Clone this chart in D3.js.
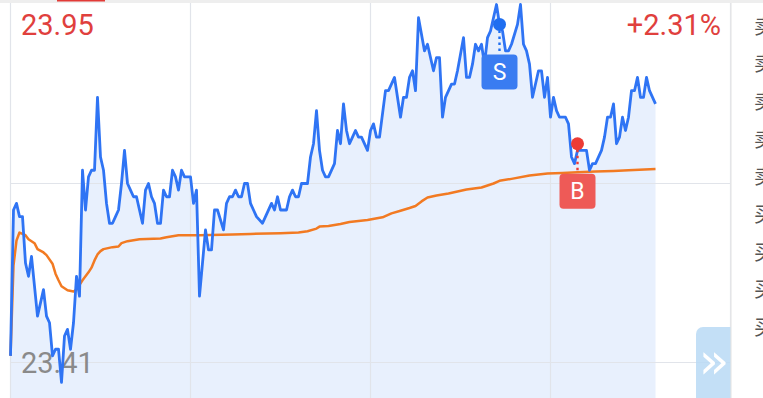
<!DOCTYPE html>
<html>
<head>
<meta charset="utf-8">
<script src="https://cdn.jsdelivr.net/npm/d3@7"></script>
<style>
  body { margin: 0; background: #fff; }
  svg { display: block; font-family: Roboto, "Noto Sans", sans-serif; }
</style>
</head>
<body>
<svg id="vis" width="763" height="398"></svg>
<script>
// intraday minute index (0..240) and last price at that minute
const minutes = [0,1,2,3,4,5,6,7,9,11,12,13,14,15,16,17,18,19,20,21,22,23,24,25,26,27,28,29,30,31,32,33,34,35,36,37,38,39,40,41,42,44,45,46,47,48,49,50,51,52,53,54,55,56,57,58,60,61,62,63,65,66,67,68,69,71,72,73,74,75,76,77,78,79,80,81,82,84,85,87,88,89,90,92,93,94,95,96,97,99,100,101,102,103,104,105,106,108,109,110,111,112,113,114,115,116,117,119,120,121,122,123,125,126,128,130,131,132,133,134,135,136,138,139,140,141,142,143,144,145,147,148,149,151,152,153,154,155,156,157,158,159,160,162,163,164,165,166,167,169,170,171,172,173,174,175,176,177,178,179,180,181,182,183,185,186,187,188,189,190,192,193,194,195,197,198,199,200,201,202,203,204,205,206,207,208,209,210,211,212,213,215];
const prices = [23.42,23.64,23.65,23.63,23.63,23.56,23.54,23.57,23.48,23.52,23.48,23.47,23.42,23.43,23.43,23.38,23.45,23.46,23.43,23.47,23.54,23.51,23.70,23.64,23.69,23.70,23.70,23.81,23.72,23.70,23.65,23.62,23.62,23.63,23.64,23.68,23.73,23.68,23.67,23.66,23.66,23.62,23.67,23.68,23.66,23.65,23.62,23.62,23.67,23.66,23.66,23.70,23.69,23.67,23.70,23.69,23.69,23.65,23.67,23.51,23.61,23.58,23.58,23.64,23.64,23.61,23.65,23.66,23.66,23.67,23.66,23.66,23.68,23.68,23.65,23.64,23.63,23.62,23.63,23.65,23.64,23.66,23.64,23.64,23.66,23.67,23.66,23.66,23.68,23.68,23.72,23.74,23.79,23.73,23.70,23.69,23.69,23.71,23.76,23.74,23.80,23.76,23.74,23.75,23.76,23.75,23.75,23.73,23.76,23.77,23.75,23.75,23.82,23.82,23.84,23.78,23.81,23.81,23.84,23.85,23.82,23.93,23.88,23.89,23.87,23.85,23.87,23.87,23.78,23.81,23.83,23.83,23.85,23.90,23.84,23.84,23.86,23.89,23.88,23.89,23.86,23.90,23.91,23.95,23.92,23.91,23.88,23.88,23.89,23.92,23.95,23.89,23.88,23.86,23.81,23.83,23.85,23.85,23.81,23.84,23.78,23.81,23.79,23.78,23.78,23.77,23.72,23.71,23.73,23.73,23.73,23.70,23.71,23.71,23.73,23.75,23.78,23.78,23.80,23.74,23.75,23.78,23.76,23.78,23.82,23.82,23.84,23.81,23.81,23.84,23.82,23.80];

// average price line
const avgMinutes = [0,1,2,3,5,6,8,9,11,12,14,15,16,17,19,21,22,24,26,27,28,29,30,31,34,36,37,39,43,50,52,56,63,74,80,90,96,99,102,103,106,110,113,119,124,127,130,133,135,137,139,142,146,152,157,161,163,167,173,179,184,189,195,201,206,215];
const avgPrices = [23.420,23.556,23.594,23.606,23.602,23.596,23.590,23.581,23.576,23.572,23.559,23.544,23.534,23.525,23.519,23.517,23.520,23.534,23.546,23.553,23.564,23.573,23.578,23.581,23.584,23.585,23.590,23.593,23.596,23.597,23.599,23.602,23.602,23.603,23.604,23.605,23.606,23.608,23.612,23.615,23.616,23.619,23.622,23.625,23.629,23.635,23.639,23.643,23.646,23.653,23.659,23.662,23.665,23.671,23.674,23.680,23.684,23.687,23.692,23.695,23.696,23.697,23.698,23.699,23.700,23.702];

// trade markers
const trades = [
  {side: "S", minute: 163, price: 23.92, color: "#3a7cf1", dot: "#1f6ef0"},
  {side: "B", minute: 189, price: 23.74, color: "#ee5a57", dot: "#ec3b35"}
];

const priceMax = 23.95, priceMin = 23.41;
const topLabel = "23.95", bottomLabel = "23.41", pctLabel = "+2.31%";
const sideRows = ["卖","卖","卖","卖","卖","买","买","买","买"];

const W = 763, H = 398;
const svg = d3.select("#vis");

const x = d3.scaleLinear().domain([0, 240]).range([10.5, 730.5]);
const y = d3.scaleLinear().domain([priceMin, priceMax]).range([362.5, 4.5]);

// top strip
svg.append("rect").attr("x", 0).attr("y", 0).attr("width", W).attr("height", 3).attr("fill", "#eeeeee");
svg.append("rect").attr("x", 57).attr("y", 0).attr("width", 48).attr("height", 1.5).attr("fill", "#e23b37");

const pts = minutes.map((m, i) => [x(m), y(prices[i])]);

// area fill
svg.append("path")
  .attr("d", d3.area().x(d => d[0]).y0(H).y1(d => d[1])(pts))
  .attr("fill", "#e8f0fd");

// grid
const grid = svg.append("g").attr("stroke", "#e1e4ea").attr("stroke-width", 1.2);
[0, 60, 120, 180, 240].forEach(m => grid.append("line")
  .attr("x1", x(m)).attr("x2", x(m)).attr("y1", 3).attr("y2", H));
[(priceMin + priceMax) / 2, priceMin].forEach(p => grid.append("line")
  .attr("x1", x(0)).attr("x2", x(240)).attr("y1", y(p)).attr("y2", y(p)));

// labels
svg.append("text").attr("x", 21).attr("y", 35).attr("font-size", 29)
  .attr("fill", "#e0403d").text(topLabel);
svg.append("text").attr("x", 721).attr("y", 35).attr("font-size", 29)
  .attr("text-anchor", "end").attr("fill", "#e0403d").text(pctLabel);
svg.append("text").attr("x", 21).attr("y", 373).attr("font-size", 29)
  .attr("fill", "#8a8a8a").text(bottomLabel);

// lines
svg.append("path")
  .attr("d", d3.line()(avgMinutes.map((m, i) => [x(m), y(avgPrices[i])])))
  .attr("fill", "none").attr("stroke", "#f27a22").attr("stroke-width", 2.5)
  .attr("stroke-linejoin", "round");
svg.append("path")
  .attr("d", d3.line()(pts))
  .attr("fill", "none").attr("stroke", "#2f74f4").attr("stroke-width", 2.8)
  .attr("stroke-linejoin", "round");

// trade markers
trades.forEach(t => {
  const cx = x(t.minute), cy = y(t.price), top = cy + 30;
  const g = svg.append("g");
  g.append("line").attr("x1", cx).attr("x2", cx).attr("y1", cy).attr("y2", top)
    .attr("stroke", t.dot).attr("stroke-width", 2.4).attr("stroke-dasharray", "2.5,3.5");
  g.append("circle").attr("cx", cx).attr("cy", cy).attr("r", 6.5).attr("fill", t.dot);
  g.append("rect").attr("x", cx - 18).attr("y", top).attr("width", 36).attr("height", 35)
    .attr("rx", 4).attr("fill", t.color);
  g.append("text").attr("x", cx).attr("y", top + 18).attr("font-size", 23)
    .attr("text-anchor", "middle").attr("dominant-baseline", "central")
    .attr("fill", "#fff").text(t.side);
});

// expand button
svg.append("rect").attr("x", 696).attr("y", 327).attr("width", 44).attr("height", 90)
  .attr("rx", 7).attr("fill", "#b8d9f5").attr("fill-opacity", 0.85);
svg.append("text").attr("x", 714).attr("y", 361).attr("font-size", 50)
  .attr("font-family", "'DejaVu Sans'")
  .attr("text-anchor", "middle").attr("dominant-baseline", "central")
  .attr("fill", "#fff").text("»");

// right panel
svg.append("rect").attr("x", 731).attr("y", 3).attr("width", W - 731).attr("height", H).attr("fill", "#fff");
svg.append("line").attr("x1", 731).attr("x2", 731).attr("y1", 3).attr("y2", H)
  .attr("stroke", "#e6e6e6").attr("stroke-width", 1.2);
svg.selectAll(".side").data(sideRows).join("text")
  .attr("class", "side")
  .attr("x", 754).attr("y", (d, i) => 25 + i * 37.7)
  .attr("dominant-baseline", "central")
  .attr("font-family", "'Noto Sans CJK SC'").attr("font-size", 20)
  .attr("fill", "#555").text(d => d);
</script>
</body>
</html>
